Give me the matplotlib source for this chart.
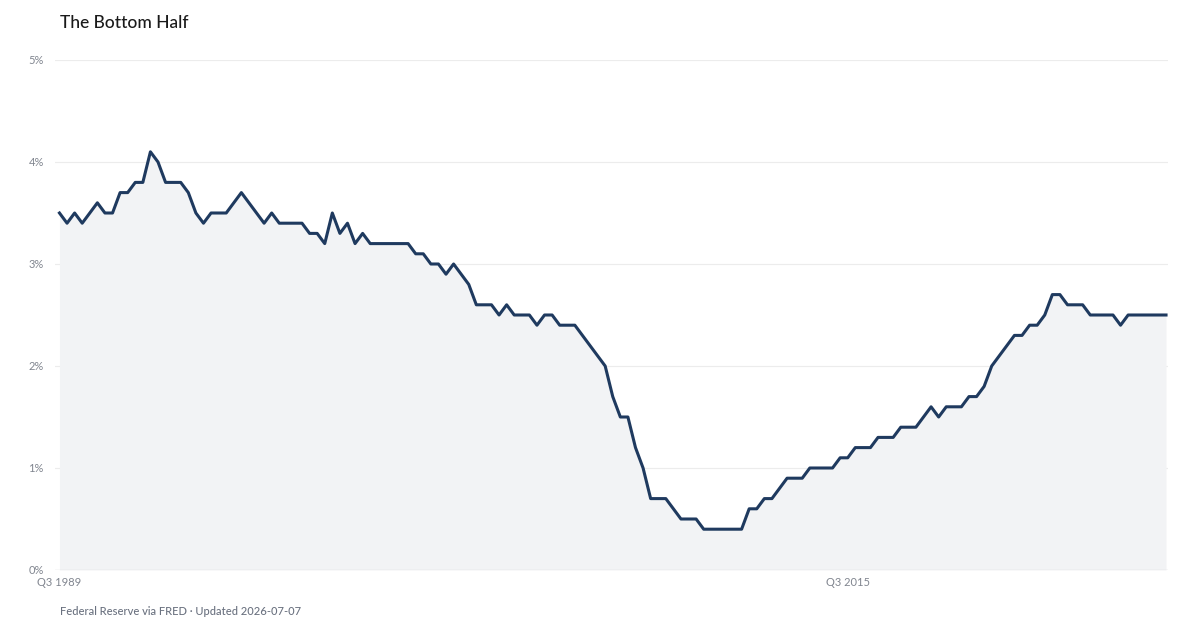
import matplotlib
matplotlib.use("Agg")
import matplotlib.pyplot as plt
import numpy as np

plt.rcParams['font.family'] = ['Lato', 'DejaVu Sans']

# share of net worth held by bottom 50%, quarterly from Q3 1989
values = [
    3.5, 3.4, 3.5, 3.4, 3.5, 3.6, 3.5, 3.5, 3.7, 3.7,
    3.8, 3.8, 4.1, 4.0, 3.8, 3.8, 3.8, 3.7, 3.5, 3.4,
    3.5, 3.5, 3.5, 3.6, 3.7, 3.6, 3.5, 3.4, 3.5, 3.4,
    3.4, 3.4, 3.4, 3.3, 3.3, 3.2, 3.5, 3.3, 3.4, 3.2,
    3.3, 3.2, 3.2, 3.2, 3.2, 3.2, 3.2, 3.1, 3.1, 3.0,
    3.0, 2.9, 3.0, 2.9, 2.8, 2.6, 2.6, 2.6, 2.5, 2.6,
    2.5, 2.5, 2.5, 2.4, 2.5, 2.5, 2.4, 2.4, 2.4, 2.3,
    2.2, 2.1, 2.0, 1.7, 1.5, 1.5, 1.2, 1.0, 0.7, 0.7,
    0.7, 0.6, 0.5, 0.5, 0.5, 0.4, 0.4, 0.4, 0.4, 0.4,
    0.4, 0.6, 0.6, 0.7, 0.7, 0.8, 0.9, 0.9, 0.9, 1.0,
    1.0, 1.0, 1.0, 1.1, 1.1, 1.2, 1.2, 1.2, 1.3, 1.3,
    1.3, 1.4, 1.4, 1.4, 1.5, 1.6, 1.5, 1.6, 1.6, 1.6,
    1.7, 1.7, 1.8, 2.0, 2.1, 2.2, 2.3, 2.3, 2.4, 2.4,
    2.5, 2.7, 2.7, 2.6, 2.6, 2.6, 2.5, 2.5, 2.5, 2.5,
    2.4, 2.5, 2.5, 2.5, 2.5, 2.5, 2.5,
]
start_year, start_q = 1989, 3
labels = []
for i in range(len(values)):
    q = start_q - 1 + i
    labels.append(f"Q{q % 4 + 1} {start_year + q // 4}")
tick_idx = [0, 104]
yticks = [0, 1, 2, 3, 4, 5]

line_col = '#1f3a5f'
fill_col = '#f2f3f5'
grid_col = '#ececec'
tick_col = '#80858f'
foot_col = '#6b7280'

fig = plt.figure(figsize=(12, 6.3), dpi=100)
ax = fig.add_axes([55 / 1200, 1 - 570 / 630, (1168 - 55) / 1200, 510 / 630])

x = np.arange(len(values))
ax.fill_between(x, 0, values, color=fill_col, lw=0, zorder=1)
ax.plot(x, values, color=line_col, lw=2.2, solid_joinstyle='round', zorder=3)

ax.set_xlim(-0.59, len(values) - 1 + 0.26)
ax.set_ylim(0, 5)
ax.set_yticks(yticks)
ax.set_yticklabels([f"{v}%" for v in yticks])
ax.set_xticks(tick_idx)
ax.set_xticklabels([labels[i] for i in tick_idx])
ax.tick_params(axis='both', length=0, labelsize=8, labelcolor=tick_col)
ax.tick_params(axis='y', pad=8)
ax.tick_params(axis='x', pad=5)

for v in yticks[1:]:
    ax.axhline(v, color=grid_col, lw=0.8, zorder=0)
ax.axhline(0, color='#dcdde0', lw=1, zorder=2)
for s in ax.spines.values():
    s.set_visible(False)

fig.text(60 / 1200, 1 - 28 / 630, "The Bottom Half", fontsize=12.5,
         color='#1a1a1a', ha='left', va='baseline', fontweight='medium')
fig.text(60 / 1200, 1 - 615 / 630, "Federal Reserve via FRED \u00b7 Updated 2026-07-07",
         fontsize=8, color=foot_col, ha='left', va='baseline', fontweight='medium')

fig.savefig('out.png', dpi=100)
